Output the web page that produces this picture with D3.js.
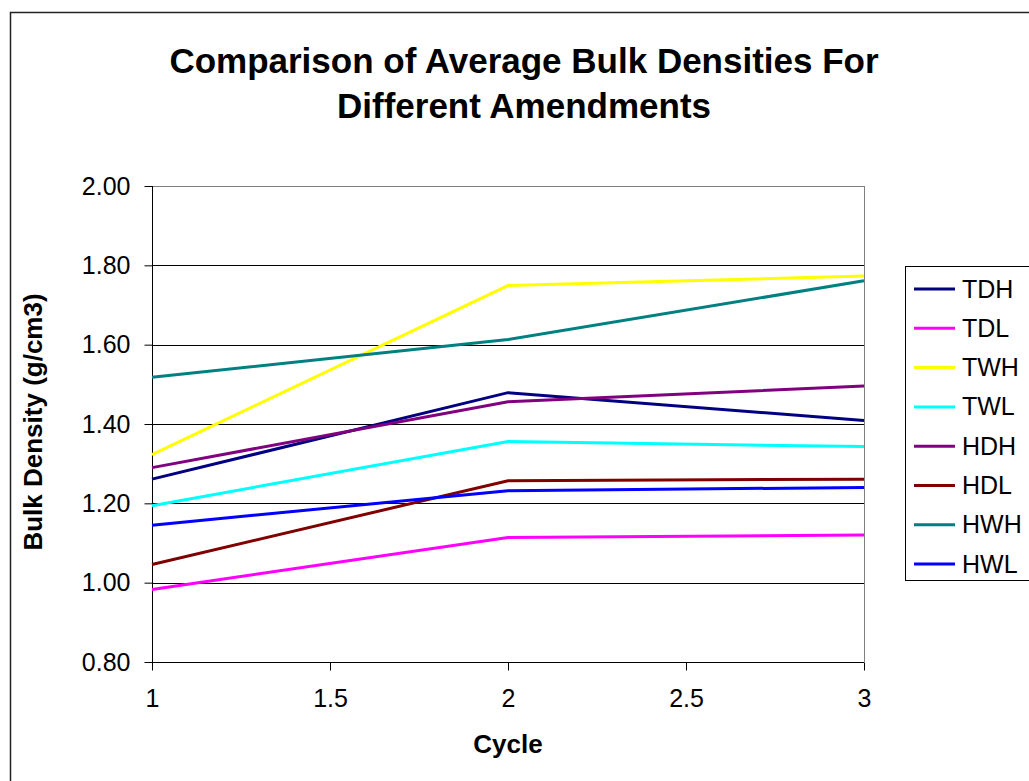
<!DOCTYPE html>
<html>
<head>
<meta charset="utf-8">
<script src="https://cdn.jsdelivr.net/npm/d3@7"></script>
<style>
  html, body { margin: 0; padding: 0; background: #fff; }
  svg { display: block; font-family: "Liberation Sans", Arial, sans-serif; }
</style>
</head>
<body>
<svg id="chart" width="1029" height="781"></svg>
<script>
// Cycle numbers on the x axis
const cycles = [1, 2, 3];

// Average bulk density (g/cm3) per amendment, one value per cycle
const TDH = [1.261, 1.479, 1.409];
const TDL = [0.983, 1.114, 1.120];
const TWH = [1.323, 1.749, 1.773];
const TWL = [1.194, 1.356, 1.343];
const HDH = [1.290, 1.456, 1.496];
const HDL = [1.046, 1.257, 1.261];
const HWH = [1.518, 1.613, 1.761];
const HWL = [1.145, 1.232, 1.240];

const seriesNames = ["TDH", "TDL", "TWH", "TWL", "HDH", "HDL", "HWH", "HWL"];
const seriesValues = [TDH, TDL, TWH, TWL, HDH, HDL, HWH, HWL];
const seriesColors = ["#000080", "#FF00FF", "#FFFF00", "#00FFFF", "#800080", "#800000", "#008080", "#0000FF"];

const xTicks = [1, 1.5, 2, 2.5, 3];
const yTicks = [0.8, 1.0, 1.2, 1.4, 1.6, 1.8, 2.0];

const FONT = "Liberation Sans, Arial, sans-serif";
const svg = d3.select("#chart");

// outer chart frame
svg.append("rect")
  .attr("x", 10.5).attr("y", 12.5)
  .attr("width", 1100).attr("height", 900)
  .attr("fill", "#fff").attr("stroke", "#222").attr("stroke-width", 1.5);

const plot = { left: 152, right: 864, top: 186, bottom: 662 };

const x = d3.scaleLinear().domain([1, 3]).range([plot.left, plot.right]);
const y = d3.scaleLinear().domain([0.8, 2.0]).range([plot.bottom, plot.top]);

// horizontal gridlines
svg.append("g")
  .selectAll("line")
  .data(yTicks)
  .join("line")
  .attr("x1", plot.left).attr("x2", plot.right)
  .attr("y1", d => Math.round(y(d)) + 0.5).attr("y2", d => Math.round(y(d)) + 0.5)
  .attr("stroke", d => d === 2.0 ? "#808080" : "#000")
  .attr("stroke-width", 1);

// right edge of plot area
svg.append("line")
  .attr("x1", plot.right + 0.5).attr("x2", plot.right + 0.5)
  .attr("y1", plot.top).attr("y2", plot.bottom)
  .attr("stroke", "#808080").attr("stroke-width", 1);

// y axis
const yAxis = d3.axisLeft(y)
  .tickValues(yTicks)
  .tickFormat(d3.format(".2f"))
  .tickSize(8)
  .tickPadding(14);
const gy = svg.append("g")
  .attr("transform", `translate(${plot.left + 0.5},0)`)
  .call(yAxis);
gy.attr("font-size", 25).attr("font-family", FONT);
gy.selectAll("text").attr("fill", "#000");
gy.selectAll("line, path").attr("stroke", "#000");
gy.select(".domain").attr("d", `M0,${plot.top}V${plot.bottom + 0.5}`);

// x axis
const xAxis = d3.axisBottom(x)
  .tickValues(xTicks)
  .tickFormat(d3.format("~g"))
  .tickSize(8)
  .tickPadding(19);
const gx = svg.append("g")
  .attr("transform", `translate(0,${plot.bottom + 0.5})`)
  .call(xAxis);
gx.attr("font-size", 25).attr("font-family", FONT);
gx.selectAll("text").attr("fill", "#000");
gx.selectAll("line, path").attr("stroke", "#000");
gx.select(".domain").attr("d", `M${plot.left},0H${plot.right}`);

// data lines
const line = d3.line()
  .x((d, i) => x(cycles[i]))
  .y(d => y(d));

svg.append("g")
  .selectAll("path")
  .data(seriesValues)
  .join("path")
  .attr("d", d => line(d))
  .attr("fill", "none")
  .attr("stroke", (d, i) => seriesColors[i])
  .attr("stroke-width", 3);

// title
const title = svg.append("text")
  .attr("x", 524).attr("y", 73)
  .attr("text-anchor", "middle")
  .attr("font-size", 35).attr("font-weight", "bold");
title.append("tspan").attr("x", 524).attr("dy", 0).text("Comparison of Average Bulk Densities For");
title.append("tspan").attr("x", 524).attr("dy", 45).text("Different Amendments");

// axis titles
svg.append("text")
  .attr("x", x(2)).attr("y", 753)
  .attr("text-anchor", "middle")
  .attr("font-size", 26).attr("font-weight", "bold")
  .text("Cycle");

svg.append("text")
  .attr("transform", `translate(42,422) rotate(-90)`)
  .attr("text-anchor", "middle")
  .attr("font-size", 26).attr("font-weight", "bold")
  .text("Bulk Density (g/cm3)");

// legend
const legend = svg.append("g");
legend.append("rect")
  .attr("x", 905.5).attr("y", 266.5)
  .attr("width", 200).attr("height", 314)
  .attr("fill", "#fff").attr("stroke", "#000").attr("stroke-width", 1);

const rowStep = 39.3;
const rows = legend.selectAll("g.row")
  .data(seriesNames)
  .join("g")
  .attr("class", "row")
  .attr("transform", (d, i) => `translate(0,${289 + i * rowStep})`);
rows.append("line")
  .attr("x1", 914).attr("x2", 955)
  .attr("y1", 0).attr("y2", 0)
  .attr("stroke", (d, i) => seriesColors[i])
  .attr("stroke-width", 3);
rows.append("text")
  .attr("x", 962).attr("y", 8.5)
  .attr("font-size", 25)
  .text(d => d);
</script>
</body>
</html>
